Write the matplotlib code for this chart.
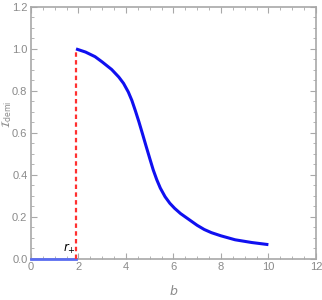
import matplotlib
matplotlib.use("Agg")
import matplotlib.pyplot as plt
from matplotlib.ticker import MultipleLocator, FuncFormatter

# values
b_vals = [1.9, 2.3, 2.7, 3.0, 3.4, 3.7, 3.9, 4.1, 4.25, 4.4, 4.55, 4.7,
          4.85, 5.0, 5.15, 5.3, 5.45, 5.65, 5.85, 6.05, 6.3, 6.6, 7.0,
          7.3, 7.6, 8.0, 8.6, 9.3, 10.0]
I_vals = [1.00, 0.985, 0.963, 0.938, 0.902, 0.866, 0.836, 0.795, 0.755,
          0.705, 0.652, 0.595, 0.537, 0.480, 0.424, 0.377, 0.337, 0.296,
          0.265, 0.241, 0.216, 0.192, 0.160, 0.140, 0.125, 0.110, 0.091,
          0.078, 0.068]
r_plus = 1.9
zero_b = [0.0, 1.9]
zero_I = [0.0, 0.0]

GRAY = "#a8a8a8"
TXT = "#8a8a8a"
plt.rcParams["font.family"] = ["Liberation Sans Narrow", "Liberation Sans", "DejaVu Sans"]

fig = plt.figure(figsize=(3.22, 3.0), dpi=100)
ax = fig.add_axes([0.096, 0.137, 0.885, 0.840])

ax.plot(zero_b, zero_I, color="#5a6cf0", lw=2.0, zorder=3, clip_on=False)
ax.plot([r_plus, r_plus], [0, I_vals[0]], color="#ff3030", lw=1.6,
        ls=(0, (2, 1.5)), zorder=4, clip_on=False)
ax.plot(b_vals, I_vals, color="#1010f0", lw=2.2, zorder=5,
        solid_capstyle="butt", solid_joinstyle="round")

ax.text(1.35, 0.035, r"$r_{+}$", fontsize=8.5, color="black")

ax.set_xlim(0, 12)
ax.set_ylim(0, 1.2)
ax.xaxis.set_major_locator(MultipleLocator(2))
ax.xaxis.set_minor_locator(MultipleLocator(0.5))
ax.yaxis.set_major_locator(MultipleLocator(0.2))
ax.yaxis.set_minor_locator(MultipleLocator(0.05))
ax.xaxis.set_major_formatter(FuncFormatter(lambda v, p: f"{int(v)}"))
ax.yaxis.set_major_formatter(FuncFormatter(lambda v, p: f"{v:.1f}"))

for s in ax.spines.values():
    s.set_color(GRAY)
    s.set_linewidth(1.2)

ax.tick_params(which="both", direction="in", top=True, right=True,
               color=GRAY, labelcolor=TXT, labelsize=8)
ax.tick_params(which="major", length=4, width=0.8, pad=2.5)
ax.tick_params(which="minor", length=2, width=0.6)

ax.set_xlabel(r"$b$", color=TXT, fontsize=9)
ax.xaxis.set_label_coords(0.5, -0.1)
# y label placed by hand so it sits inside the figure like the reference
fig.text(7 / 322, 0.62, r"$\mathcal{I}_{\rm demi}$", color=TXT, fontsize=8,
         rotation=90, ha="center", va="center")

fig.savefig("out.png", dpi=100)
